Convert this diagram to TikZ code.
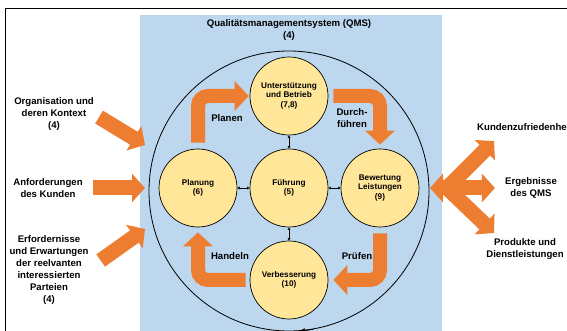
\documentclass[tikz,border=0pt]{standalone}
\usepackage{fontspec}
\setmainfont{Liberation Sans}
\usetikzlibrary{arrows.meta}
\definecolor{qmsblue}{RGB}{189,215,238}
\definecolor{qmsyellow}{RGB}{255,230,153}
\definecolor{qmsorange}{RGB}{237,125,49}

\begin{document}
\begin{tikzpicture}[x=1pt, y=1pt,
    phase/.style={circle, draw, line width=.7pt, fill=qmsyellow, minimum size=78pt, inner sep=0pt,
      align=center, font=\bfseries\fontsize{8.2}{9.7}\selectfont},
    txt/.style={align=center, inner sep=0pt, font=\bfseries\fontsize{9.6}{12}\selectfont},
    cyclearrow/.style={draw=qmsorange, line width=14pt, rounded corners=10pt,
      -{Triangle[width=29pt,length=14pt]}},
    inarrow/.style={draw=qmsorange, line width=15pt, -{Triangle[width=28pt,length=13pt]}},
    outarrow/.style={inarrow, line cap=round},
    link/.style={{Latex[length=2.5pt,width=3pt]}-{Latex[length=2.5pt,width=3pt]}, line width=.6pt}]
  \useasboundingbox (0,0) rectangle (567,331);
  \clip (0,0) rectangle (567,331);
  \draw[line width=1pt] (5,-10) rectangle (600,322.5);
  \fill[qmsblue] (140,-10) rectangle (442,315.5);
  \node[txt, font=\bfseries\fontsize{9.6}{11.7}\selectfont] (title) at (289,301)
    {Qualitätsmanagementsystem (QMS)\\(4)};
  \node[circle, draw, line width=.8pt, minimum size=280pt, inner sep=0pt] (qms) at (289,140) {};
  \draw[-{Latex[length=6pt,width=5pt]}, line width=.8pt] (qms.-80) arc[start angle=-80, end angle=-86, radius=140];

  \node[phase] (unter) at (289,235) {Unterstützung\\und Betrieb\\(7,8)};
  \node[phase] (fuehr) at (289,143) {Führung\\(5)};
  \node[phase] (plan) at (198,143) {Planung\\(6)};
  \node[phase] (bew) at (380,143) {Bewertung\\Leistungen\\(9)};
  \node[phase] (verb) at (289,51) {Verbesserung\\(10)};

  \draw[link] (plan) -- (fuehr);
  \draw[link] (fuehr) -- (bew);
  \draw[link] (fuehr) -- (unter);
  \draw[link] (fuehr) -- (verb);

  \draw[cyclearrow, shorten <=6pt, shorten >=1pt] (plan.north) |- (unter.west);
  \draw[cyclearrow, shorten <=5pt, shorten >=4pt] (unter.east) -| (bew.north);
  \draw[cyclearrow, shorten <=6pt, shorten >=5pt] (bew.south) |- (verb.east);
  \draw[cyclearrow, shorten <=4pt, shorten >=5pt] (verb.west) -| (plan.south);

  \node[txt] (planen) at (227,213) {Planen};
  \node[txt] (durch) at (352,212.5) {Durch-\\führen};
  \node[txt] (pruef) at (357,75) {Prüfen};
  \node[txt] (handeln) at (230,75) {Handeln};

  \node[txt] (org) at (54,217) {Organisation und\\deren Kontext\\(4)};
  \node[txt] (anf) at (48,143) {Anforderungen\\des Kunden};
  \node[txt] (erf) at (49,60.5) {Erfordernisse\\und Erwartungen\\der reelvanten\\interessierten\\Parteien\\(4)};
  \coordinate (in1) at (145,186);
  \coordinate (in2) at (145,143);
  \coordinate (in3) at (145,102);
  \draw[inarrow, shorten <=6pt] (org.east) -- (in1);
  \draw[inarrow, shorten <=10pt] (anf.east) -- (in2);
  \draw[inarrow] ([shift={(12pt,10pt)}]erf.east) -- (in3);

  \node[txt, anchor=west] (kund) at (477,204) {Kundenzufriedenheit};
  \node[txt] (erg) at (531,143) {Ergebnisse\\des QMS};
  \node[txt] (prod) at (525,82) {Produkte und\\Dienstleistungen};
  \coordinate (hub) at (447,143);
  \coordinate (out0) at (430,143);
  \coordinate (out1) at (494,190);
  \coordinate (out3) at (494,98);
  \draw[outarrow] (hub) -- (out0);
  \draw[outarrow] (hub) -- (out1);
  \draw[outarrow, shorten >=10pt] (hub) -- (erg.west);
  \draw[outarrow] (hub) -- (out3);
\end{tikzpicture}
\end{document}
